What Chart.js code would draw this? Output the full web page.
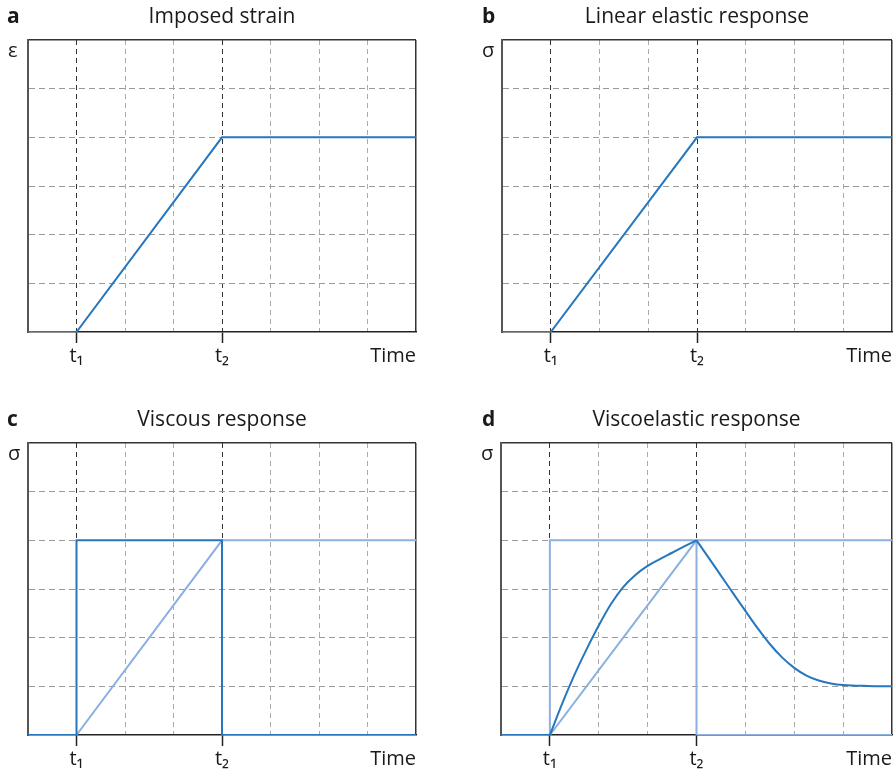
<!DOCTYPE html>
<html>
<head>
<meta charset="utf-8">
<script src="https://cdn.jsdelivr.net/npm/chart.js@4.4.1/dist/chart.umd.min.js"></script>
<style>
    body { margin: 0; background: #fff; width: 896px; height: 777px; overflow: hidden; position: relative; }
    canvas { position: absolute; }
</style>
</head>
<body>
<canvas id="chart-a" width="448" height="388" style="left:0;top:0"></canvas>
<canvas id="chart-b" width="448" height="388" style="left:448px;top:0"></canvas>
<canvas id="chart-c" width="448" height="388" style="left:0;top:403px"></canvas>
<canvas id="chart-d" width="448" height="388" style="left:448px;top:403px"></canvas>
<script>

// axis ranges and tick labels
var timeMin = 0, timeMax = 8;
var levelMin = 0, levelMax = 6;
var timeTickLabels = ['', 't₁', '', '', 't₂', '', '', '', ''];
var markedTimes = [1, 4];

// a - imposed strain
var strainTime = [0, 1, 4, 8];
var strainValue = [0, 0, 4, 4];

// b - linear elastic
var elasticTime = [0, 1, 4, 8];
var elasticValue = [0, 0, 4, 4];

// c - viscous
var viscousTime = [0, 1, 1, 4, 4, 8];
var viscousValue = [0, 0, 4, 4, 0, 0];

// d - viscoelastic (three pieces so the corners at t1 and t2 stay sharp)
var veFlatTime = [0, 1];
var veFlatValue = [0, 0];
var veRiseTime = [1, 1.25, 1.5, 1.75, 2, 2.25, 2.5, 2.75, 3, 3.25, 3.5, 3.75, 4];
var veRiseValue = [0, 0.64, 1.23, 1.76, 2.25, 2.69, 3.04, 3.29, 3.475, 3.615, 3.745, 3.875, 4];
var veDecayTime = [4, 4.25, 4.5, 4.75, 5, 5.25, 5.5, 5.75, 6, 6.25, 6.5, 6.75, 7, 7.5, 8];
var veDecayValue = [4, 3.64, 3.275, 2.91, 2.55, 2.195, 1.87, 1.595, 1.38, 1.22, 1.12, 1.06, 1.027, 1.007, 1.0];

var darkBlue = '#2677be';
var lightBlue = '#8cb0e0';
var fontFamily = "'Open Sans', 'Noto Sans', sans-serif";

function toPoints(xs, ys) {
    var pts = [];
    for (var i = 0; i < xs.length; i++) {
        pts.push({ x: xs[i], y: ys[i] });
    }
    return pts;
}

function lineSet(xs, ys, color, smooth) {
    return {
        data: toPoints(xs, ys),
        borderColor: color,
        borderWidth: 2,
        pointRadius: 0,
        fill: false,
        tension: 0,
        cubicInterpolationMode: smooth ? 'monotone' : 'default'
    };
}

function tickValue(ctx) {
    return (ctx && ctx.tick) ? ctx.tick.value : null;
}

// letters, titles, y symbol and "Time"
var panelText = {
    id: 'panelText',
    afterDraw: function (chart, args, opts) {
        var c = chart.ctx;
        var area = chart.chartArea;
        c.save();
        c.fillStyle = '#1a1a1a';
        c.textBaseline = 'alphabetic';

        c.font = 'bold 21px ' + fontFamily;
        c.textAlign = 'left';
        c.fillText(opts.letter, opts.letterX, 23);

        c.font = '21px ' + fontFamily;
        c.textAlign = 'center';
        c.fillText(opts.title, (area.left + area.right) / 2, 23);

        c.font = '20px ' + fontFamily;
        c.textAlign = 'left';
        c.fillText(opts.symbol, area.left - 20, area.top + 17);

        c.textAlign = 'right';
        c.textBaseline = 'middle';
        c.fillText('Time', area.right, area.bottom + 24);
        c.restore();
    }
};

function makeChart(id, datasets, text, padLeft, padRight) {
    var canvas = document.getElementById(id).getContext('2d');
    return new Chart(canvas, {
        type: 'line',
        data: { datasets: datasets },
        options: {
            responsive: false,
            animation: false,
            layout: { padding: { left: padLeft, right: padRight, top: 40, bottom: 19 } },
            plugins: {
                legend: { display: false },
                tooltip: { enabled: false },
                panelText: text
            },
            scales: {
                x: {
                    type: 'linear',
                    min: timeMin,
                    max: timeMax,
                    ticks: {
                        stepSize: 1,
                        autoSkip: false,
                        maxRotation: 0,
                        padding: 1,
                        color: '#1a1a1a',
                        font: { family: fontFamily, size: 20 },
                        callback: function (v) { return timeTickLabels[v] || ''; }
                    },
                    grid: {
                        tickLength: 11,
                        tickWidth: 1.5,
                        tickColor: function (ctx) {
                            return markedTimes.indexOf(tickValue(ctx)) >= 0 ? '#222' : 'rgba(0,0,0,0)';
                        },
                        color: function (ctx) {
                            var v = tickValue(ctx);
                            if (v === timeMin) return 'rgba(0,0,0,0)';
                            if (v === timeMax) return '#333';
                            if (markedTimes.indexOf(v) >= 0) return '#333';
                            return '#ababab';
                        },
                        lineWidth: function (ctx) {
                            return tickValue(ctx) === timeMax ? 1.5 : 1;
                        }
                    },
                    border: {
                        color: '#222',
                        width: 1.5,
                        dash: function (ctx) {
                            return tickValue(ctx) === timeMax ? [] : [5, 4];
                        }
                    }
                },
                y: {
                    min: levelMin,
                    max: levelMax,
                    ticks: { display: false, stepSize: 1 },
                    grid: {
                        drawTicks: false,
                        color: function (ctx) {
                            var v = tickValue(ctx);
                            if (v === levelMin) return 'rgba(0,0,0,0)';
                            if (v === levelMax) return '#333';
                            return '#9a9a9a';
                        },
                        lineWidth: function (ctx) {
                            return tickValue(ctx) === levelMax ? 1.5 : 1;
                        }
                    },
                    border: {
                        color: '#555',
                        width: 2,
                        dash: function (ctx) {
                            return tickValue(ctx) === levelMax ? [] : [6, 4];
                        }
                    }
                }
            }
        },
        plugins: [panelText]
    });
}

makeChart('chart-a', [
    lineSet(strainTime, strainValue, darkBlue)
], { letter: 'a', letterX: 7, title: 'Imposed strain', symbol: 'ε' }, 28, 32);

makeChart('chart-b', [
    lineSet(elasticTime, elasticValue, darkBlue)
], { letter: 'b', letterX: 34, title: 'Linear elastic response', symbol: 'σ' }, 54, 4);

makeChart('chart-c', [
    lineSet(viscousTime, viscousValue, darkBlue),
    lineSet(elasticTime, elasticValue, lightBlue)
], { letter: 'c', letterX: 7, title: 'Viscous response', symbol: 'σ' }, 28, 32);

makeChart('chart-d', [
    lineSet(veFlatTime, veFlatValue, darkBlue),
    lineSet(veRiseTime, veRiseValue, darkBlue, true),
    lineSet(veDecayTime, veDecayValue, darkBlue, true),
    lineSet(viscousTime.slice(1), viscousValue.slice(1), lightBlue),
    lineSet(elasticTime.slice(1), elasticValue.slice(1), lightBlue)
], { letter: 'd', letterX: 34, title: 'Viscoelastic response', symbol: 'σ' }, 53, 4);

</script>
</body>
</html>
